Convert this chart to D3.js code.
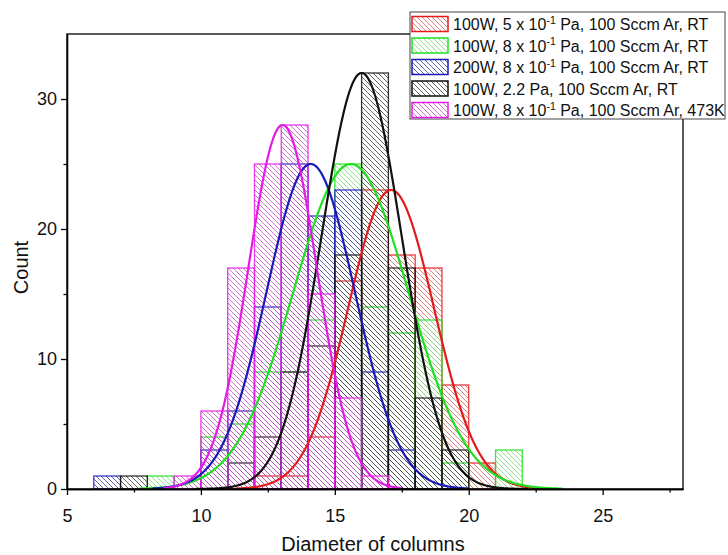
<!DOCTYPE html>
<html>
<head>
<meta charset="utf-8">
<script src="https://cdn.jsdelivr.net/npm/d3@7"></script>
<style>
  html, body { margin: 0; padding: 0; background: #fff; }
  svg { display: block; font-family: "Liberation Sans", Arial, sans-serif; }
</style>
</head>
<body>
<svg id="chart" width="728" height="555"></svg>
<script>
// ---------------- data ----------------
const binStarts = [6, 7, 8, 9, 10, 11, 12, 13, 14, 15, 16, 17, 18, 19, 20, 21, 22];
const binWidth = 1;

const seriesNames = [
  ["100W, 5 x 10", "-1", " Pa, 100 Sccm Ar, RT"],
  ["100W, 8 x 10", "-1", " Pa, 100 Sccm Ar, RT"],
  ["200W, 8 x 10", "-1", " Pa, 100 Sccm Ar, RT"],
  ["100W, 2.2 Pa, 100 Sccm Ar, RT", "", ""],
  ["100W, 8 x 10", "-1", " Pa, 100 Sccm Ar, 473K"]
];

const countsRed     = [0, 0, 0, 0, 0, 0, 1, 1, 4, 16, 23, 18, 17, 8, 2, 0, 0];
const countsGreen   = [0, 0, 1, 0, 4, 5, 9, 9, 13, 25, 14, 12, 13, 2, 0, 3, 0];
const countsBlue    = [1, 0, 0, 0, 3, 6, 14, 25, 21, 23, 9, 3, 0, 0, 0, 0, 0];
const countsBlack   = [0, 1, 0, 0, 0, 2, 4, 9, 11, 18, 32, 17, 7, 3, 0, 0, 0];
const countsMagenta = [0, 0, 0, 1, 6, 17, 25, 28, 15, 7, 1, 0, 0, 0, 0, 0, 0];

// Gaussian fit curves: centre, width, peak height, drawn range
const fitMean = [17.1, 15.6, 14.1, 16.0, 13.05];
const fitSd   = [1.6, 2.15, 1.65, 1.5, 1.28];
const fitPeak = [23, 25, 25, 32, 28];
const fitFrom = [11.3, 7.7, 8.2, 9.8, 8.6];
const fitTo   = [22.85, 23.5, 19.95, 22.2, 17.5];

const xTicks = [5, 10, 15, 20, 25];
const xMinorTicks = [7.5, 12.5, 17.5, 22.5, 27.5];
const yTicks = [0, 10, 20, 30];
const yMinorTicks = [5, 15, 25];

// ---------------- style ----------------
const lineColors  = ["#e41a1c", "#1fe01f", "#1a1ab8", "#111111", "#e61ae6"];
const hatchColors = ["#d96b6b", "#7fdc7f", "#4646a6", "#4a4a4a", "#c85ac8"];
const allCounts = [countsRed, countsGreen, countsBlue, countsBlack, countsMagenta];

const svg = d3.select("#chart");
const L = 67, R = 683, T = 34, B = 489;

const x = d3.scaleLinear().domain([5, 28]).range([L, R]);
const y = d3.scaleLinear().domain([0, 35]).range([B, T]);

svg.append("rect").attr("width", 728).attr("height", 555).attr("fill", "#fff");

// hatch patterns
const defs = svg.append("defs");
hatchColors.forEach((c, i) => {
  const p = defs.append("pattern")
    .attr("id", "hatch" + i)
    .attr("patternUnits", "userSpaceOnUse")
    .attr("width", 5).attr("height", 5);
  p.append("path")
    .attr("d", "M-1,-1 L6,6 M-1,4 L1,6 M4,-1 L6,1")
    .attr("stroke", c).attr("stroke-width", 1).attr("stroke-opacity", 0.85);
});

const plot = svg.append("g");

// bars
allCounts.forEach((counts, si) => {
  const data = binStarts.map((b, j) => ({ b, c: counts[j] })).filter(d => d.c > 0);
  plot.append("g").selectAll("rect")
    .data(data).enter().append("rect")
    .attr("x", d => x(d.b))
    .attr("y", d => y(d.c))
    .attr("width", d => x(d.b + binWidth) - x(d.b))
    .attr("height", d => y(0) - y(d.c))
    .attr("fill", "url(#hatch" + si + ")")
    .attr("stroke", lineColors[si])
    .attr("stroke-width", 1.3)
    .attr("stroke-opacity", 0.85);
});

// fit curves
const line = d3.line().x(d => x(d[0])).y(d => y(d[1]));
fitMean.forEach((m, si) => {
  const pts = d3.range(fitFrom[si], fitTo[si] + 1e-9, 0.02).map(v =>
    [v, fitPeak[si] * Math.exp(-((v - m) * (v - m)) / (2 * fitSd[si] * fitSd[si]))]);
  plot.append("path")
    .attr("d", line(pts))
    .attr("fill", "none")
    .attr("stroke", lineColors[si])
    .attr("stroke-width", 2.2);
});

// frame (top / right)
svg.append("rect")
  .attr("x", L).attr("y", T).attr("width", R - L).attr("height", B - T)
  .attr("fill", "none").attr("stroke", "#000").attr("stroke-width", 1.3);

// axes
const xAxis = svg.append("g").attr("transform", `translate(0,${B})`)
  .call(d3.axisBottom(x).tickValues(xTicks).tickSize(6).tickSizeOuter(0).tickPadding(14));
const xAxisMinor = svg.append("g").attr("transform", `translate(0,${B})`)
  .call(d3.axisBottom(x).tickValues(xMinorTicks).tickSize(3.5).tickSizeOuter(0).tickFormat(""));
const yAxis = svg.append("g").attr("transform", `translate(${L},0)`)
  .call(d3.axisLeft(y).tickValues(yTicks).tickSize(6).tickSizeOuter(0).tickPadding(4));
const yAxisMinor = svg.append("g").attr("transform", `translate(${L},0)`)
  .call(d3.axisLeft(y).tickValues(yMinorTicks).tickSize(3.5).tickSizeOuter(0).tickFormat(""));

[xAxis, xAxisMinor, yAxis, yAxisMinor].forEach(g => {
  g.selectAll("path").attr("stroke", "#000").attr("stroke-width", 1.3);
  g.selectAll("line").attr("stroke", "#000").attr("stroke-width", 1.3);
  g.selectAll("text").attr("font-size", 18).attr("fill", "#111")
    .attr("font-family", "'Liberation Sans', Arial, sans-serif");
});

// axis titles
svg.append("text")
  .attr("x", (L + R) / 2 - 2).attr("y", 551)
  .attr("text-anchor", "middle").attr("font-size", 20).attr("fill", "#111")
  .text("Diameter of columns");
svg.append("text")
  .attr("transform", `translate(28,${(T + B) / 2 + 6}) rotate(-90)`)
  .attr("text-anchor", "middle").attr("font-size", 20).attr("fill", "#111")
  .text("Count");

// legend
const lg = svg.append("g");
lg.append("rect").attr("x", 410).attr("y", 12).attr("width", 315).attr("height", 107)
  .attr("fill", "#fff").attr("stroke", "#444").attr("stroke-width", 1);
seriesNames.forEach((nm, i) => {
  const cy = 24 + i * 21.5;
  lg.append("rect").attr("x", 412).attr("y", cy - 7.5).attr("width", 36).attr("height", 15)
    .attr("fill", "url(#hatch" + i + ")").attr("stroke", lineColors[i]).attr("stroke-width", 1.5);
  const t = lg.append("text").attr("x", 453).attr("y", cy + 6)
    .attr("font-size", 16).attr("fill", "#111");
  t.append("tspan").text(nm[0]);
  if (nm[1]) {
    t.append("tspan").attr("font-size", 10.5).attr("dy", -6.5).text(nm[1]);
    t.append("tspan").attr("dy", 6.5).text(nm[2]);
  }
});
</script>
</body>
</html>
